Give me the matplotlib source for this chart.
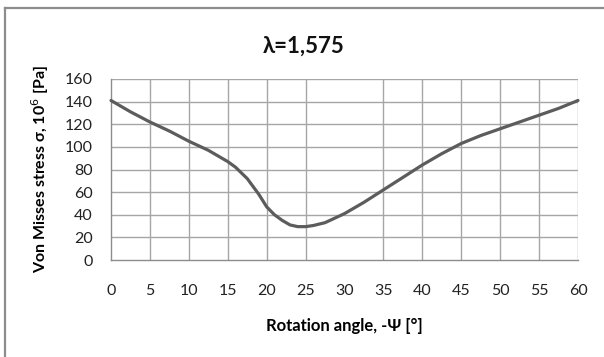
import matplotlib.pyplot as plt
from matplotlib.lines import Line2D

# rotation angle (deg) and von Mises stress (MPa)
angle = [0, 2.5, 5, 7.5, 10, 12.5, 15, 16, 17.5, 19, 20, 21, 22, 23, 24, 25, 26,
         27.5, 30, 32.5, 35, 37.5, 40, 42.5, 45, 47.5, 50, 52.5, 55, 57.5, 60]
stress = [141, 131, 122, 114, 105, 97, 87, 82, 72, 58, 47, 40, 35, 31, 29.5, 29.5, 30.5,
          33, 41, 51, 62, 73, 84, 94, 103, 110, 116, 122, 128, 134, 141]

x_ticks = list(range(0, 61, 5))
y_ticks = list(range(0, 161, 20))

plt.rcParams['font.family'] = ['Lato', 'DejaVu Sans']

fig = plt.figure(figsize=(6.04, 3.57), dpi=100)
ax = fig.add_axes([111 / 604, 1 - 260 / 357, 467 / 604, 181 / 357])

grid_color = '#a6a6a6'
for x in x_ticks:
    if x in (0, 30):
        continue
    ax.axvline(x, color=grid_color, lw=1, zorder=1)
for y in y_ticks[1:]:
    ax.axhline(y, color=grid_color, lw=1, zorder=1)

ax.plot(angle, stress, color='#5c5c5c', lw=2.3, solid_joinstyle='round',
        solid_capstyle='round', zorder=3, clip_on=False)

ax.set_xlim(0, 60)
ax.set_ylim(0, 160)
ax.set_xticks(x_ticks)
ax.set_yticks(y_ticks)
ax.tick_params(length=0, labelsize=11.5, colors='#222222')
ax.tick_params(axis='x', pad=17)
ax.tick_params(axis='y', pad=13)

for side in ('top', 'right'):
    ax.spines[side].set_visible(False)
for side in ('left', 'bottom'):
    ax.spines[side].set_color('#8c8c8c')
    ax.spines[side].set_linewidth(1)

ax.set_xlabel('Rotation angle, -Ψ [°]', fontsize=12, fontweight='bold', labelpad=15)
ax.set_ylabel('Von Misses stress σ, 10$^6$ [Pa]', fontsize=11.5, fontweight='bold', labelpad=10)

fig.text(304 / 604, 1 - 46 / 357, 'λ=1,575', ha='center', va='center',
         fontsize=16, fontweight='bold', color='#111111')

# chart frame (top and left edges)
fig.add_artist(Line2D([5 / 604, 5 / 604], [0, 1 - 7.5 / 357], transform=fig.transFigure,
                      color='#8c8c8c', lw=1.6))
fig.add_artist(Line2D([5 / 604, 1], [1 - 7.5 / 357, 1 - 7.5 / 357], transform=fig.transFigure,
                      color='#8c8c8c', lw=1.6))

fig.savefig('out.png', dpi=100)
